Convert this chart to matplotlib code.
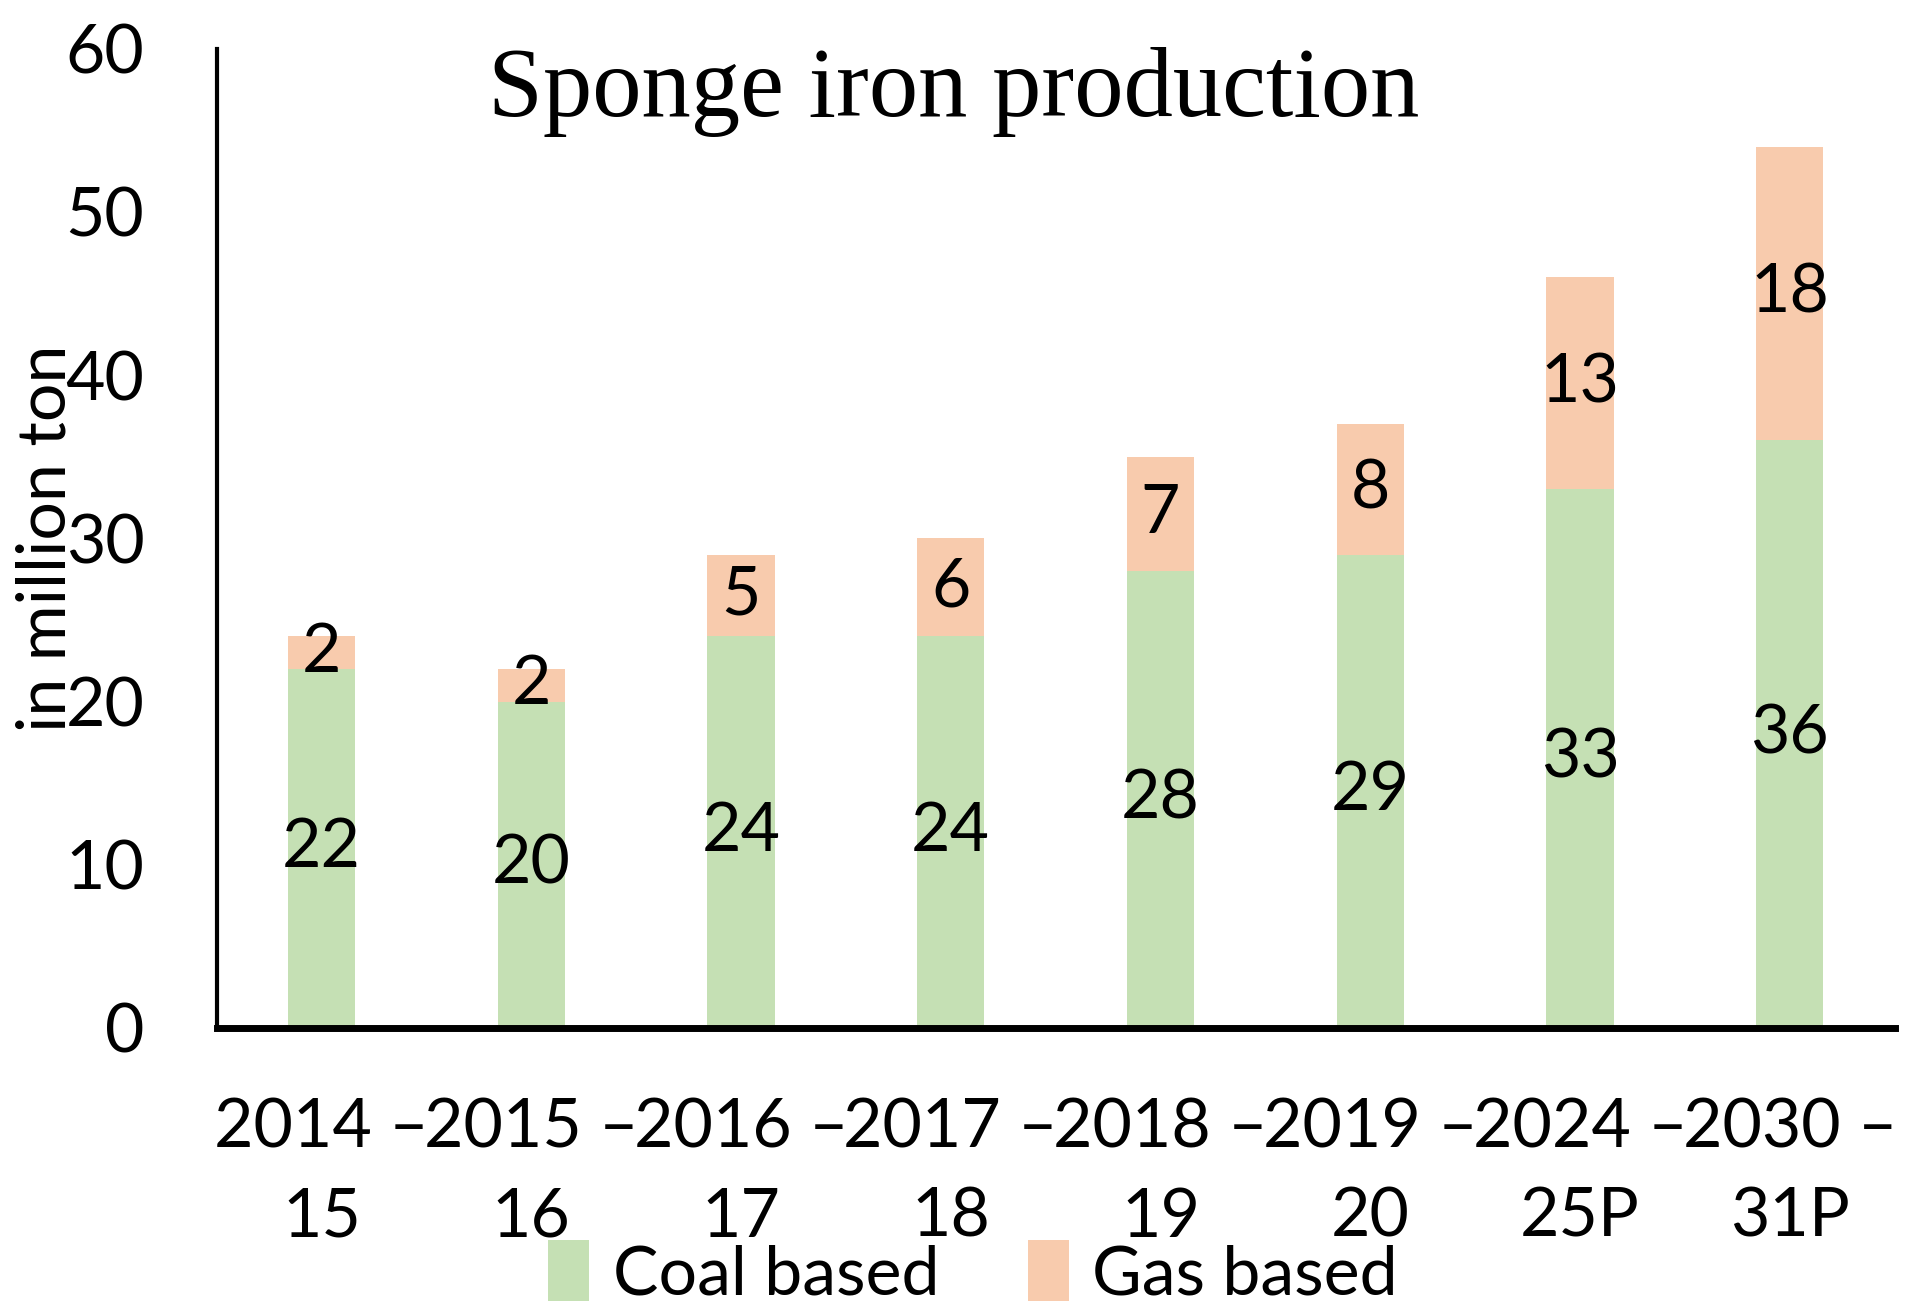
import matplotlib
matplotlib.use("Agg")
import matplotlib.pyplot as plt
import numpy as np

years = ["2014 –\n15", "2015 –\n16", "2016 –\n17", "2017 –\n18",
         "2018 –\n19", "2019 –\n20", "2024 –\n25P", "2030 –\n31P"]
coal = [22, 20, 24, 24, 28, 29, 33, 36]
gas = [2, 2, 5, 6, 7, 8, 13, 18]

GREEN = "#C5E0B4"
PEACH = "#F8CBAD"
SANS = ["Lato", "DejaVu Sans"]
FS = 49


def main():
    '''Draw stacked bar chart'''
    plt.rcParams['font.family'] = SANS
    fig = plt.figure(figsize=(19.08, 13.14), dpi=100)
    ax = fig.add_axes([0.1135, 0.2177, 0.8795, 0.7453])

    x = np.arange(len(years))
    b1 = ax.bar(x, coal, width=0.32, color=GREEN, label="Coal based")
    b2 = ax.bar(x, gas, width=0.32, bottom=coal, color=PEACH, label="Gas based")

    for i in range(len(x)):
        ax.text(x[i], coal[i] / 2, str(coal[i]), ha="center", va="center",
                fontsize=FS)
        ax.text(x[i], coal[i] + gas[i] / 2, str(gas[i]), ha="center",
                va="center", fontsize=FS)

    ax.set_xlim(-0.5, 7.5)
    ax.set_ylim(0, 60)
    ax.set_yticks(range(0, 61, 10))
    ax.set_xticks(x)
    ax.set_xticklabels(years, fontsize=FS, linespacing=1.55)
    ax.tick_params(axis="both", length=0, labelsize=FS)
    ax.tick_params(axis="x", pad=50)
    ax.tick_params(axis="y", pad=52)

    for s in ["top", "right"]:
        ax.spines[s].set_visible(False)
    ax.spines["left"].set_linewidth(3)
    ax.spines["bottom"].set_linewidth(5)

    # label overlaps the tick numbers, as in the source figure
    ax.set_ylabel("in million ton", fontsize=FS)
    ax.yaxis.set_label_coords(-0.083, 0.5)

    fig.text(0.5, 0.93, "Sponge iron production", family="Liberation Serif",
             fontsize=71, ha="center", va="center")

    fig.legend(handles=[b1, b2], loc="center", bbox_to_anchor=(0.51, 0.031),
               ncol=2, frameon=False, fontsize=FS, handlelength=0.6,
               handleheight=1.0, handletextpad=0.35, columnspacing=1.3)

    fig.savefig("out.png", dpi=100)


if __name__ == "__main__":
    main()
